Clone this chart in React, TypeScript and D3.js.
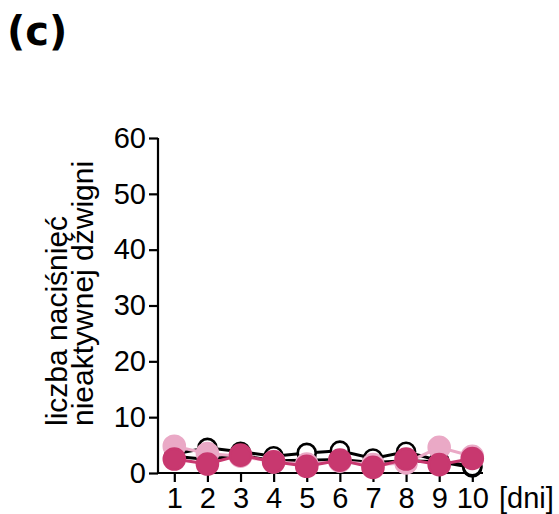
import * as d3 from 'd3';
import { useEffect, useRef } from 'react';

// days on the x axis
const days = [1, 2, 3, 4, 5, 6, 7, 8, 9, 10];
const yTicks = [0, 10, 20, 30, 40, 50, 60];

// inactive lever presses per group
const openBlack = [3.4, 4.5, 3.8, 3.0, 3.6, 4.0, 2.6, 3.8, 2.2, 1.2];
const openBlackErr = [0, 0, 1.8, 0, 0, 0, 0, 0, 0, 0];
const filledBlack = [3.0, 2.4, 3.2, 2.2, 2.3, 2.4, 1.9, 2.2, 2.0, 1.0];
const lightPink = [4.8, 3.5, 3.0, 2.0, 1.6, 2.1, 1.5, 1.8, 4.6, 3.0];
const darkPink = [2.5, 1.6, 3.2, 2.0, 1.2, 2.3, 1.0, 2.5, 1.5, 2.6];

const App = () => {
    const ref = useRef<SVGSVGElement>(null);

    useEffect(() => {
        const svg = d3.select(ref.current);
        svg.selectAll('*').remove();

        const font = 'Liberation Sans, Arial, sans-serif';
        const fs = 29;

        // scales
        const x = d3.scaleLinear().domain([1, 10]).range([174.3, 472.3]);
        const y = d3.scaleLinear().domain([0, 60]).range([473, 138]);

        // panel label
        svg.append('text')
            .attr('x', 7).attr('y', 45)
            .attr('font-family', 'DejaVu Sans, sans-serif')
            .attr('font-weight', 'bold')
            .attr('font-size', 40)
            .text('(c)');

        // y axis
        const yAxis = svg.append('g')
            .attr('transform', 'translate(158,0)')
            .call(d3.axisLeft(y).tickValues(yTicks).tickSize(9).tickPadding(3));
        yAxis.select('.domain').attr('stroke', '#000').attr('stroke-width', 2.2)
            .attr('d', `M0,${y(60)}V${y(0)}`);
        yAxis.selectAll('.tick line').attr('stroke', '#000').attr('stroke-width', 2.2);
        yAxis.selectAll('.tick text').attr('font-family', font).attr('font-size', fs).attr('fill', '#000');

        // x axis
        const xAxis = svg.append('g')
            .attr('transform', `translate(0,${y(0)})`)
            .call(d3.axisBottom(x).tickValues(days).tickSize(9).tickFormat(d3.format('d')));
        xAxis.select('.domain').attr('stroke', '#000').attr('stroke-width', 2.2)
            .attr('d', `M157,0H483`);
        xAxis.selectAll('.tick line').attr('stroke', '#000').attr('stroke-width', 2.2);
        xAxis.selectAll('.tick text')
            .attr('font-family', font).attr('font-size', fs).attr('fill', '#000')
            .attr('y', 35).attr('dy', 0);

        svg.append('text')
            .attr('x', 499).attr('y', 508)
            .attr('font-family', font).attr('font-size', fs)
            .text('[dni]');

        // y title, two lines, start aligned
        const title = svg.append('text')
            .attr('transform', 'translate(67,426) rotate(-90)')
            .attr('font-family', font).attr('font-size', 30);
        title.append('tspan').attr('x', 0).attr('dy', 0).text('liczba naciśnięć');
        title.append('tspan').attr('x', 0).attr('dy', 26).text('nieaktywnej dźwigni');

        const line = d3.line<number>().x((_, i) => x(days[i])).y(d => y(d));

        const drawLine = (vals: number[], color: string) => {
            svg.append('path').datum(vals)
                .attr('d', line).attr('fill', 'none')
                .attr('stroke', color).attr('stroke-width', 3);
        };
        const drawDots = (vals: number[], stroke: string, fill: string, r: number) => {
            svg.append('g').selectAll('circle').data(vals).enter().append('circle')
                .attr('cx', (_, i) => x(days[i])).attr('cy', d => y(d))
                .attr('r', r)
                .attr('fill', fill)
                .attr('stroke', stroke).attr('stroke-width', 2.6);
        };

        // error bars for open group
        svg.append('g').selectAll('path').data(openBlack).enter().append('path')
            .filter((_, i) => openBlackErr[i] > 0)
            .attr('d', (d, i) => {
                const cx = x(days[i]);
                const top = y(d + openBlackErr[i]);
                return `M${cx},${y(d)}V${top}M${cx - 9},${top}H${cx + 9}`;
            })
            .attr('stroke', '#000').attr('stroke-width', 2.8).attr('fill', 'none');

        drawLine(filledBlack, '#000');
        drawDots(filledBlack, '#000', '#000', 9);
        drawLine(openBlack, '#000');
        drawDots(openBlack, '#000', '#fff', 9);
        drawLine(lightPink, '#eaa9c6');
        drawDots(lightPink, '#eaa9c6', '#eaa9c6', 10.5);
        drawLine(darkPink, '#c8386f');
        drawDots(darkPink, '#c8386f', '#c8386f', 10.5);
    }, []);

    return (
        <svg ref={ref} width={559} height={514}
            style={{ display: 'block', position: 'absolute', left: 0, top: 0 }} />
    );
};

export default App;
